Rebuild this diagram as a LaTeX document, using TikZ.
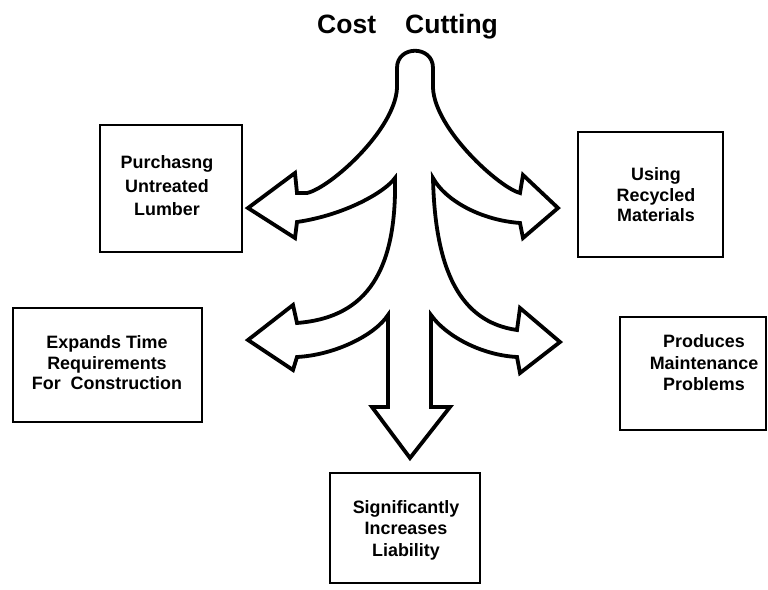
\documentclass[tikz,border=0pt]{standalone}
\usepackage{fontspec}
\setmainfont{Liberation Sans}
\begin{document}
\begin{tikzpicture}[x=1pt,y=-1pt,
  box/.style={draw=black,line width=2.6pt,rectangle,inner sep=0pt},
  lbl/.style={align=center,inner sep=0pt,font=\fontsize{17.9}{21.5}\selectfont\bfseries},
  ttl/.style={inner sep=0pt,anchor=base west,font=\fontsize{26.5}{30}\selectfont\bfseries},
  arrowline/.style={draw=black,line width=3.8pt,line join=miter,miter limit=6}]
\useasboundingbox (0,0) rectangle (768,589);
% title
\node[ttl] (cost) at (317,33) {Cost};
\node[ttl] (cut) at (405,33) {Cutting};
% boxes
\node[box,minimum width=142pt,minimum height=127pt] (b1) at (171,188.5) {};
\node[box,minimum width=145pt,minimum height=125pt] (b2) at (650.5,194.5) {};
\node[box,minimum width=189pt,minimum height=114pt] (b3) at (107.5,365) {};
\node[box,minimum width=146pt,minimum height=113pt] (b4) at (693,373.5) {};
\node[box,minimum width=150pt,minimum height=110pt] (b5) at (405,528) {};
% labels
\node[lbl,font=\fontsize{17.9}{23.5}\selectfont\bfseries] (t1) at (167,186) {Purchasng\\Untreated\\Lumber};
\node[lbl,font=\fontsize{17.9}{20.5}\selectfont\bfseries] (t2) at (656,195) {Using\\Recycled\\Materials};
\node[lbl,font=\fontsize{17.9}{20.5}\selectfont\bfseries] (t3) at (107,363) {Expands Time\\Requirements\\For\ \ Construction};
\node[lbl] (t4) at (704,363) {Produces\\Maintenance\\Problems};
\node[lbl] (t5) at (406,530) {Significantly\\Increases\\Liability};
% the branching arrow
\path[arrowline]
  (397,68) -- (397,88)
  .. controls (395,130) and (330,188) .. (307,193)
  -- (297,193) -- (295,173) -- (248,208) -- (295,238) -- (297,222)
  .. controls (345,215) and (385,192) .. (395,178)
  .. controls (397,280) and (360,318) .. (297,323)
  -- (293,305) -- (248,340) -- (293,370) -- (297,357)
  .. controls (335,355) and (375,335) .. (388,315)
  -- (388,407) -- (372,407) -- (410,458) -- (450,407) -- (431,407) -- (431,315)
  .. controls (445,335) and (480,355) .. (517,357)
  -- (520,373) -- (560,342) -- (520,308) -- (517,330)
  .. controls (460,322) and (435,270) .. (433,178)
  .. controls (445,200) and (480,220) .. (520,223)
  -- (523,238) -- (558,208) -- (523,175) -- (520,193)
  .. controls (500,188) and (435,130) .. (433,88)
  -- (433,68) .. controls (433,45) and (397,45) .. (397,68) -- cycle;
\end{tikzpicture}
\end{document}
